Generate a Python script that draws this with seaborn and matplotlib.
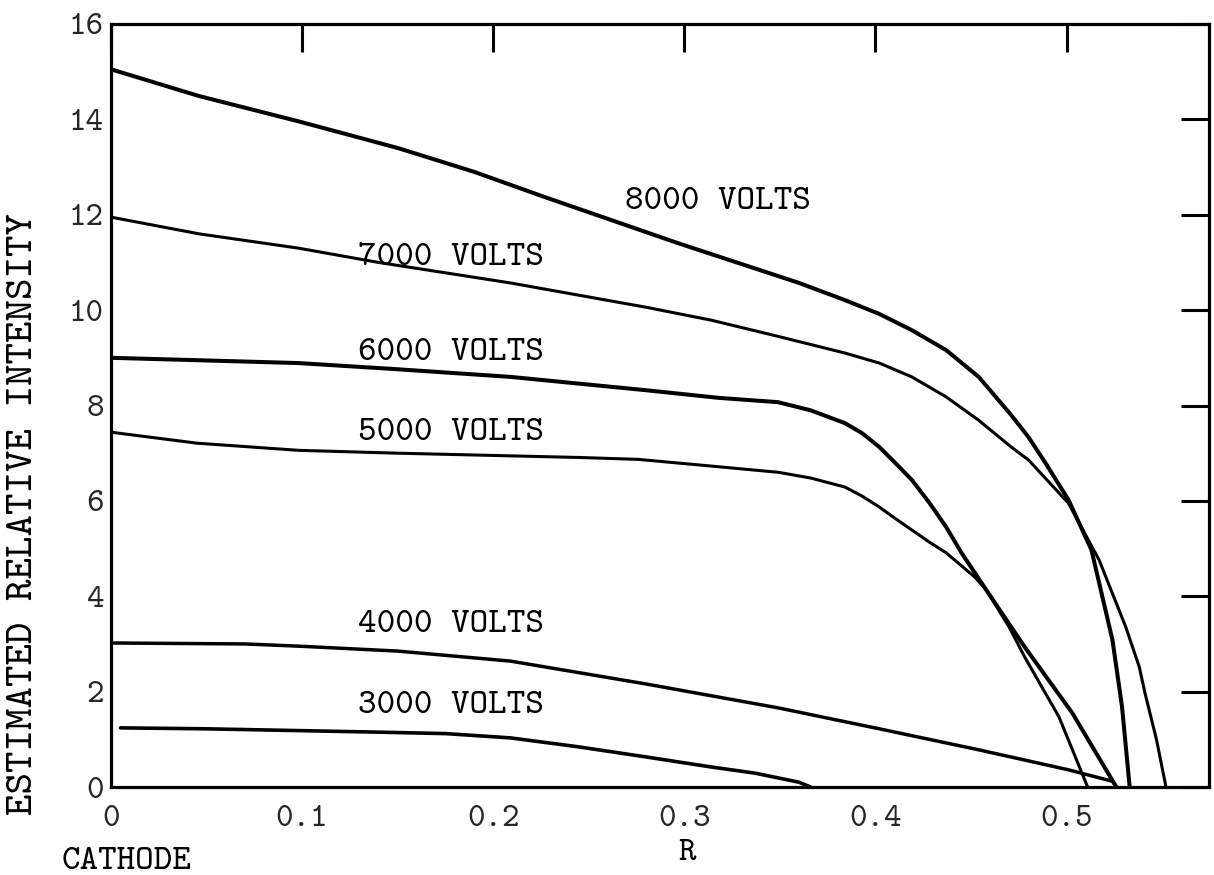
import matplotlib
matplotlib.use("Agg")
import matplotlib.pyplot as plt
import seaborn as sns

# ---------------- data ----------------
r_8000 = [0.0, 0.046, 0.098, 0.150, 0.190, 0.227, 0.297, 0.360, 0.384, 0.402, 0.419, 0.437,
          0.454, 0.471, 0.480, 0.489, 0.501, 0.513, 0.524, 0.529, 0.533]
i_8000 = [15.05, 14.49, 13.96, 13.40, 12.90, 12.37, 11.40, 10.57, 10.21, 9.92, 9.58, 9.16,
          8.60, 7.80, 7.34, 6.79, 6.02, 4.97, 3.08, 1.68, 0.0]

r_7000 = [0.0, 0.046, 0.098, 0.140, 0.209, 0.280, 0.314, 0.349, 0.366, 0.384, 0.402, 0.419,
          0.437, 0.454, 0.471, 0.480, 0.501, 0.517, 0.531, 0.538, 0.541, 0.547, 0.552]
i_7000 = [11.95, 11.60, 11.30, 11.00, 10.57, 10.06, 9.79, 9.45, 9.28, 9.10, 8.89, 8.60,
          8.18, 7.69, 7.13, 6.86, 5.95, 4.76, 3.35, 2.52, 1.97, 1.00, 0.0]

r_6000 = [0.0, 0.045, 0.098, 0.150, 0.209, 0.280, 0.318, 0.349, 0.366, 0.384, 0.393, 0.402,
          0.410, 0.419, 0.428, 0.437, 0.445, 0.458, 0.478, 0.503, 0.526]
i_6000 = [9.00, 8.95, 8.89, 8.76, 8.60, 8.32, 8.16, 8.07, 7.90, 7.63, 7.42, 7.13,
          6.81, 6.44, 5.97, 5.45, 4.91, 4.13, 2.94, 1.55, 0.0]

r_5000 = [0.0, 0.045, 0.098, 0.150, 0.245, 0.276, 0.314, 0.349, 0.366, 0.384, 0.393, 0.402,
          0.410, 0.419, 0.428, 0.437, 0.452, 0.458, 0.470, 0.478, 0.496, 0.511]
i_5000 = [7.44, 7.21, 7.06, 7.00, 6.91, 6.87, 6.73, 6.60, 6.48, 6.29, 6.10, 5.87,
          5.64, 5.39, 5.14, 4.91, 4.40, 4.13, 3.35, 2.73, 1.47, 0.0]

r_4000 = [0.0, 0.070, 0.100, 0.150, 0.209, 0.280, 0.349, 0.402, 0.454, 0.501, 0.524]
i_4000 = [3.02, 3.00, 2.95, 2.85, 2.64, 2.16, 1.66, 1.22, 0.78, 0.36, 0.12]

r_3000 = [0.005, 0.050, 0.140, 0.175, 0.209, 0.245, 0.280, 0.314, 0.337, 0.360, 0.366]
i_3000 = [1.24, 1.22, 1.15, 1.12, 1.03, 0.84, 0.63, 0.42, 0.29, 0.10, 0.0]

curve_names = ["8000 VOLTS", "7000 VOLTS", "6000 VOLTS", "5000 VOLTS", "4000 VOLTS", "3000 VOLTS"]
label_x = [0.269, 0.129, 0.129, 0.129, 0.129, 0.129]
label_y = [12.26, 11.09, 9.10, 7.42, 3.40, 1.70]

x_ticks = [0, 0.1, 0.2, 0.3, 0.4, 0.5]
x_tick_labels = ["0", "0.1", "0.2", "0.3", "0.4", "0.5"]
y_ticks = [0, 2, 4, 6, 8, 10, 12, 14, 16]
y_tick_labels = ["0", "2", "4", "6", "8", "10", "12", "14", "16"]

y_axis_title = "ESTIMATED RELATIVE INTENSITY"
x_axis_title = "R"
x_origin_note = "CATHODE"

# ---------------- style ----------------
sns.set_theme(style="white")
FAM = ["cmtt10", "DejaVu Sans Mono"]
plt.rcParams["font.family"] = FAM
plt.rcParams["axes.unicode_minus"] = False
NBSP = "\u00a0"

W, H = 1214, 875
fig = plt.figure(figsize=(W / 100, H / 100), dpi=100)
left_px, right_px, top_px, bottom_px = 111, 1209, 24, 787
ax = fig.add_axes([left_px / W, 1 - bottom_px / H,
                   (right_px - left_px) / W, (bottom_px - top_px) / H])

series = [(r_8000, i_8000, 2.9), (r_7000, i_7000, 2.2), (r_6000, i_6000, 2.9),
          (r_5000, i_5000, 2.2), (r_4000, i_4000, 2.5), (r_3000, i_3000, 2.6)]
for rx, iy, lw in series:
    sns.lineplot(x=rx, y=iy, sort=False, estimator=None, color="black",
                 linewidth=lw, ax=ax, solid_capstyle="round")

for name, lx, ly in zip(curve_names, label_x, label_y):
    ax.text(lx, ly, name.replace(" ", NBSP), ha="left", va="center",
            fontsize=25.5, color="black", family=FAM)

ax.set_xlim(0, 0.5745)
ax.set_ylim(0, 16)
ax.set_xticks(x_ticks)
ax.set_xticklabels(x_tick_labels, family=FAM)
ax.set_yticks(y_ticks)
ax.set_yticklabels(y_tick_labels, family=FAM)
ax.tick_params(axis="both", which="major", direction="in", length=20, width=2.2,
               color="black", labelsize=24, top=True, right=True)
ax.tick_params(axis="x", pad=13)
ax.tick_params(axis="y", pad=5)
for s in ax.spines.values():
    s.set_linewidth(2.3)
    s.set_color("black")
ax.set_xlabel("")
ax.set_ylabel("")

fig.text(24 / W, 1 - 514 / H, y_axis_title.replace(" ", NBSP), rotation=90,
         ha="center", va="center", fontsize=29.5, color="black", family=FAM)
fig.text(687 / W, 1 - 853 / H, x_axis_title, ha="center", va="center",
         fontsize=24, color="black", family=FAM)
fig.text(127 / W, 1 - 862 / H, x_origin_note, ha="center", va="center",
         fontsize=25.5, color="black", family=FAM)

fig.savefig("out.png", dpi=100, facecolor="white")
